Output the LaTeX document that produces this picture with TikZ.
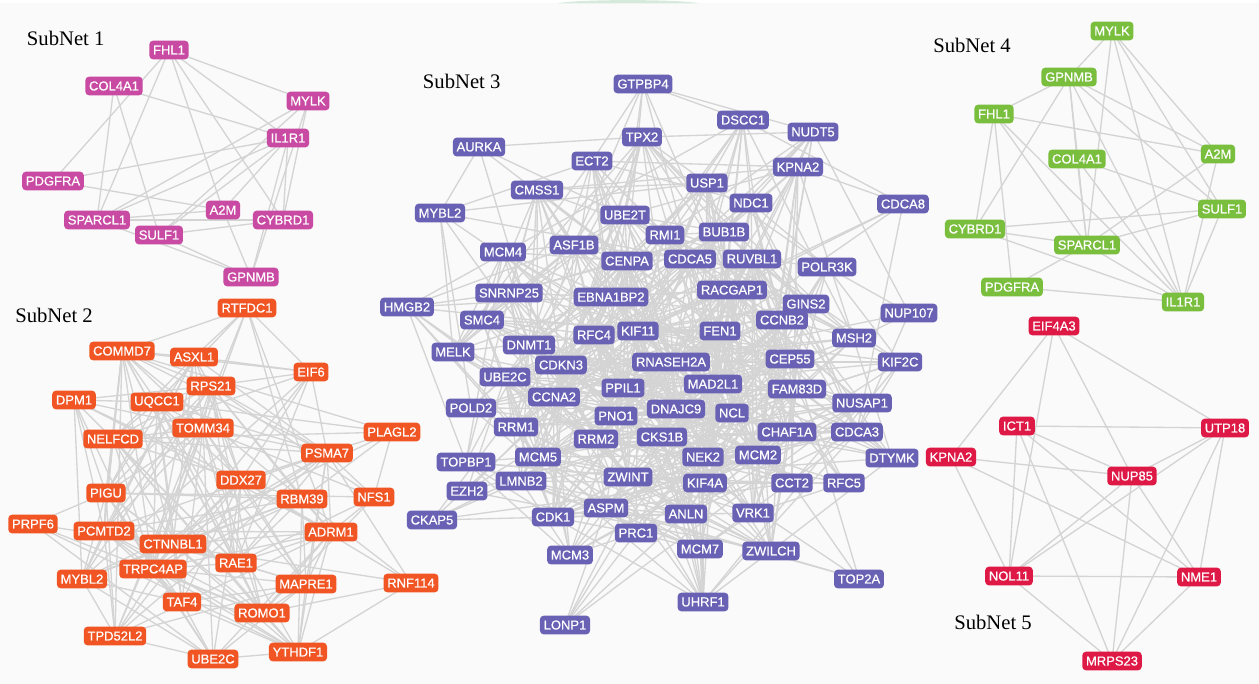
\documentclass[tikz,border=0pt]{standalone}
\usepackage{fontspec}
\setmainfont{Liberation Sans}
\newfontfamily\genefont[FakeBold=0.6]{Liberation Sans}
\newfontfamily\seriffont{Liberation Serif}
\pgfdeclarelayer{bgzero}
\pgfdeclarelayer{edgelayer}
\pgfsetlayers{bgzero,edgelayer,main}
\definecolor{cone}{RGB}{200,74,163}
\definecolor{ctwo}{RGB}{240,85,35}
\definecolor{cthree}{RGB}{104,97,180}
\definecolor{cfour}{RGB}{122,190,62}
\definecolor{cfive}{RGB}{222,25,70}
\definecolor{edgec}{RGB}{212,212,212}
\definecolor{bgc}{RGB}{250,250,250}
\definecolor{arcgreen}{RGB}{214,234,219}
\tikzset{
  gene/.style={rounded corners=2.8pt, text=white, font=\genefont\fontsize{9.75}{10}\selectfont,
    inner xsep=2.8pt, inner ysep=0pt, minimum height=14pt},
  edge/.style={draw=edgec, line width=1pt},
  netlabel/.style={anchor=base west, inner sep=0pt, font=\seriffont\fontsize{15.5}{16}\selectfont, text=black}
}
\def\subone{FHL1/169/50,COL4A1/114/86,MYLK/308/101,IL1R1/288/138,PDGFRA/53/181,A2M/223/210,SPARCL1/97/220,CYBRD1/283/220,SULF1/159/235,GPNMB/251/277}
\def\subtwo{RTFDC1/247/308/0.7,COMMD7/122/351/0.7,ASXL1/194/357/0.75,EIF6/311/372/0.7,RPS21/211/386/0.85,DPM1/74/400/0.45,UQCC1/157/402/0.8,TOMM34/203/428/0.9,PLAGL2/392/432/0.45,NELFCD/113/439/0.8,PSMA7/327/453/0.8,DDX27/241/480/0.9,PIGU/106/493/0.75,RBM39/302/499/0.85,NFS1/374/497/0.7,PRPF6/33/524/0.5,PCMTD2/104/531/0.75,CTNNBL1/173/544/0.9,ADRM1/331/532/0.8,RAE1/236/563/0.9,TRPC4AP/153/569/0.8,MYBL2/82/579/0.5,MAPRE1/306/584/0.8,RNF114/411/583/0.45,TAF4/182/602/0.75,ROMO1/262/613/0.8,TPD52L2/115/636/0.5,YTHDF1/298/652/0.65,UBE2C/213/659/0.65}
\def\subthree{GTPBP4/643/84/0.45,TPX2/642/137/0.55,DSCC1/743/120/0.5,NUDT5/813/132/0.55,AURKA/479/147/0.35,ECT2/592/161/0.5,KPNA2/798/167/0.6,CMSS1/537/190/0.5,USP1/707/183/0.55,NDC1/751/203/0.6,CDCA8/903/204/0.35,MYBL2/440/213/0.4,UBE2T/625/215/0.6,BUB1B/724/232/0.7,RMI1/665/235/0.7,MCM4/503/252/0.65,ASF1B/574/245/0.75,CENPA/627/261/0.8,CDCA5/690/259/0.85,RUVBL1/752/259/0.8,POLR3K/827/267/0.55,HMGB2/407/307/0.35,SNRNP25/509/293/0.7,EBNA1BP2/611/297/0.85,RACGAP1/732/290/0.85,GINS2/806/304/0.7,NUP107/909/313/0.35,SMC4/482/320/0.6,RFC4/594/335/0.9,KIF11/638/331/0.9,FEN1/720/331/0.9,CCNB2/782/320/0.8,MSH2/854/338/0.55,MELK/453/352/0.45,DNMT1/529/345/0.8,CDKN3/561/365/0.85,RNASEH2A/671/362/0.9,CEP55/790/359/0.8,KIF2C/900/362/0.45,UBE2C/505/377/0.75,CCNA2/554/397/0.85,PPIL1/623/388/0.9,MAD2L1/713/384/0.9,FAM83D/797/389/0.8,NUSAP1/862/403/0.6,POLD2/471/408/0.45,PNO1/616/416/0.9,DNAJC9/676/409/0.9,NCL/732/413/0.9,RRM1/516/427/0.75,RRM2/596/439/0.9,CKS1B/662/437/0.9,CHAF1A/787/432/0.8,CDCA3/857/432/0.6,TOPBP1/466/462/0.45,MCM5/538/457/0.8,NEK2/703/457/0.9,MCM2/758/455/0.85,DTYMK/892/458/0.4,EZH2/467/491/0.4,LMNB2/521/481/0.7,ZWINT/628/477/0.85,KIF4A/705/483/0.85,CCT2/792/483/0.65,RFC5/844/483/0.55,CKAP5/432/520/0.35,CDK1/553/517/0.7,ASPM/606/508/0.75,ANLN/686/514/0.75,VRK1/753/513/0.7,PRC1/636/533/0.7,MCM3/570/555/0.55,MCM7/700/549/0.6,ZWILCH/771/551/0.55,TOP2A/859/579/0.4,UHRF1/703/602/0.5,LONP1/565/625/0.3}
\def\subfour{MYLK/1112/31,GPNMB/1069/77,FHL1/994/114,A2M/1218/154,COL4A1/1077/159,SULF1/1222/209,CYBRD1/975/229,SPARCL1/1087/245,PDGFRA/1012/287,IL1R1/1183/302}
\def\subfive{EIF4A3/1054/326,ICT1/1017/426,UTP18/1225/428,KPNA2/951/457,NUP85/1132/476,NOL11/1009/576,NME1/1199/577,MRPS23/1112/661}
\begin{document}
\begin{tikzpicture}[x=0.75pt,y=-0.75pt]
\useasboundingbox (0,0) rectangle (1259,684);
\begin{pgfonlayer}{bgzero}
  \fill[bgc] (0,0) rectangle (1259,684);
  \fill[white] (0,0) rectangle (1259,3.5);
  \fill[arcgreen] (557,3.5) .. controls (575,-1) and (680,-1) .. (700,3.5) -- cycle;
\end{pgfonlayer}
% labels
\node[netlabel] (lab1) at (26.7,45.5) {SubNet 1};
\node[netlabel] (lab2) at (15,322) {SubNet 2};
\node[netlabel] (lab3) at (422.7,89) {SubNet 3};
\node[netlabel] (lab4) at (933,53) {SubNet 4};
\node[netlabel] (lab5) at (954,629) {SubNet 5};
% nodes
\foreach \n/\x/\y in \subone { \node[gene, fill=cone] (a-\n) at (\x,\y) {\n}; }
\foreach \n/\x/\y/\w in \subtwo { \node[gene, fill=ctwo] (b-\n) at (\x,\y) {\n}; }
\foreach \n/\x/\y/\w in \subthree { \node[gene, fill=cthree] (c-\n) at (\x,\y) {\n}; }
\foreach \n/\x/\y in \subfour { \node[gene, fill=cfour] (d-\n) at (\x,\y) {\n}; }
\foreach \n/\x/\y in \subfive { \node[gene, fill=cfive] (e-\n) at (\x,\y) {\n}; }
\begin{pgfonlayer}{edgelayer}
% subnet 1
\foreach \p/\q in {FHL1/MYLK,FHL1/IL1R1,FHL1/CYBRD1,FHL1/A2M,FHL1/SPARCL1,FHL1/PDGFRA,
  COL4A1/IL1R1,COL4A1/SPARCL1,COL4A1/SULF1,PDGFRA/IL1R1,PDGFRA/A2M,
  SPARCL1/MYLK,SPARCL1/IL1R1,SPARCL1/A2M,SPARCL1/CYBRD1,SPARCL1/GPNMB,
  SULF1/MYLK,SULF1/IL1R1,SULF1/CYBRD1,SULF1/GPNMB,A2M/IL1R1,A2M/GPNMB,
  CYBRD1/MYLK,CYBRD1/IL1R1,GPNMB/IL1R1,GPNMB/MYLK}
  {\draw[edge] (a-\p.center) -- (a-\q.center);}
% subnet 4
\foreach \p/\q in {MYLK/GPNMB,MYLK/SPARCL1,MYLK/A2M,MYLK/SULF1,MYLK/IL1R1,
  GPNMB/FHL1,GPNMB/CYBRD1,GPNMB/COL4A1,GPNMB/A2M,GPNMB/SULF1,GPNMB/IL1R1,GPNMB/SPARCL1,
  FHL1/A2M,FHL1/CYBRD1,FHL1/PDGFRA,FHL1/SPARCL1,FHL1/IL1R1,
  COL4A1/SULF1,COL4A1/SPARCL1,COL4A1/IL1R1,
  CYBRD1/SULF1,CYBRD1/SPARCL1,CYBRD1/IL1R1,
  SPARCL1/A2M,SPARCL1/SULF1,SPARCL1/PDGFRA,SPARCL1/IL1R1,
  PDGFRA/IL1R1,A2M/IL1R1,SULF1/IL1R1}
  {\draw[edge] (d-\p.center) -- (d-\q.center);}
% subnet 5
\foreach \p/\q in {EIF4A3/KPNA2,EIF4A3/NOL11,EIF4A3/NUP85,EIF4A3/UTP18,
  ICT1/UTP18,ICT1/NUP85,ICT1/NOL11,ICT1/NME1,ICT1/MRPS23,
  KPNA2/NUP85,KPNA2/NME1,KPNA2/NOL11,
  NUP85/NOL11,NUP85/NME1,NUP85/MRPS23,UTP18/NUP85,
  UTP18/NOL11,UTP18/NME1,UTP18/MRPS23,NOL11/NME1,NOL11/MRPS23,NME1/MRPS23}
  {\draw[edge] (e-\p.center) -- (e-\q.center);}
% subnet 2 (dense)
\pgfmathsetseed{42}
\foreach \na/\xa/\ya/\wa [count=\i] in \subtwo {
  \foreach \nb/\xb/\yb/\wb [count=\j] in \subtwo {
    \ifnum\j>\i\relax
      \pgfmathsetmacro\pp{max(0,1.5*\wa*\wb*(1-veclen((\xa-\xb)/100,(\ya-\yb)/100)/4.5))}
      \pgfmathsetmacro\rr{rnd}
      \ifdim\rr pt<\pp pt\relax
        \draw[edge] (b-\na.center) -- (b-\nb.center);
      \fi
    \fi
  }
}
% subnet 3 (dense)
\pgfmathsetseed{7}
\foreach \na/\xa/\ya/\wa [count=\i] in \subthree {
  \foreach \nb/\xb/\yb/\wb [count=\j] in \subthree {
    \ifnum\j>\i\relax
      \pgfmathsetmacro\pp{max(0,1.05*\wa*\wb*(1-veclen((\xa-\xb)/100,(\ya-\yb)/100)/4.5))}
      \pgfmathsetmacro\rr{rnd}
      \ifdim\rr pt<\pp pt\relax
        \draw[edge] (c-\na.center) -- (c-\nb.center);
      \fi
    \fi
  }
}
\end{pgfonlayer}
\end{tikzpicture}
\end{document}
